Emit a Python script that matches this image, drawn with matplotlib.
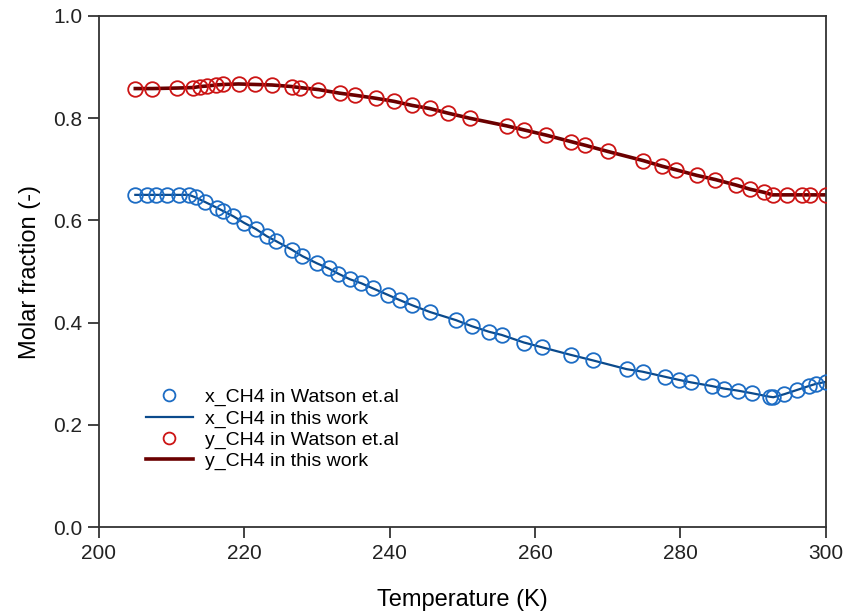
import matplotlib
matplotlib.use("Agg")
import matplotlib.pyplot as plt
from matplotlib.lines import Line2D

plt.rcParams['font.family'] = ['Liberation Sans', 'DejaVu Sans']

# x_CH4 (liquid) - Watson et.al
T_x = [205.0, 206.6, 207.9, 209.3, 211.0, 212.4, 213.3, 214.6, 216.2, 217.0,
       218.5, 220.0, 221.6, 223.1, 224.3, 226.5, 228.0, 230.0, 231.6, 232.9,
       234.5, 236.1, 237.7, 239.8, 241.4, 243.1, 245.5, 249.1, 251.3, 253.7,
       255.4, 258.5, 260.9, 264.9, 268.0, 272.6, 274.8, 277.9, 279.8, 281.5,
       284.3, 286.0, 287.9, 289.8, 292.3, 292.8, 294.3, 296.0, 297.7, 298.6,
       300.0]
x_ch4 = [0.650, 0.650, 0.650, 0.650, 0.650, 0.650, 0.645, 0.636, 0.625, 0.619,
         0.608, 0.595, 0.583, 0.569, 0.560, 0.543, 0.530, 0.516, 0.506, 0.496,
         0.485, 0.477, 0.467, 0.454, 0.444, 0.434, 0.421, 0.405, 0.393, 0.382,
         0.376, 0.361, 0.352, 0.337, 0.326, 0.309, 0.304, 0.294, 0.288, 0.283,
         0.276, 0.271, 0.267, 0.262, 0.255, 0.254, 0.260, 0.268, 0.276, 0.280,
         0.284]

# y_CH4 (vapour) - Watson et.al
T_y = [205.0, 207.3, 210.7, 213.0, 213.9, 214.9, 216.1, 217.1, 219.2, 221.5,
       223.8, 226.5, 227.6, 230.2, 233.1, 235.2, 238.1, 240.6, 243.1, 245.5,
       248.0, 251.0, 256.1, 258.5, 261.5, 265.0, 266.9, 270.0, 274.9, 277.5,
       279.4, 282.3, 284.8, 287.7, 289.6, 291.5, 292.7, 294.7, 296.7, 297.8,
       300.0]
y_ch4 = [0.858, 0.858, 0.859, 0.860, 0.862, 0.863, 0.865, 0.866, 0.867, 0.866,
         0.865, 0.862, 0.860, 0.856, 0.849, 0.845, 0.839, 0.833, 0.825, 0.819,
         0.810, 0.800, 0.785, 0.777, 0.767, 0.754, 0.747, 0.735, 0.717, 0.706,
         0.699, 0.688, 0.680, 0.669, 0.661, 0.655, 0.650, 0.650, 0.650, 0.650,
         0.650]

fig = plt.figure(figsize=(8.46, 6.15), dpi=100)
ax = fig.add_axes([0.117, 0.143, 0.859, 0.831])

blue_m = '#1c6cc4'
blue_l = '#0b4a8c'
red_m = '#cc1414'
red_l = '#6a0000'

ax.plot(T_x, x_ch4, color=blue_l, lw=1.6, zorder=2)
ax.plot(T_x, x_ch4, ls='none', marker='o', ms=10.5, mfc='none', mec=blue_m, mew=1.3, zorder=3)
ax.plot(T_y, y_ch4, color=red_l, lw=2.6, zorder=2)
ax.plot(T_y, y_ch4, ls='none', marker='o', ms=10.5, mfc='none', mec=red_m, mew=1.3, zorder=3)

ax.set_xlim(200, 300)
ax.set_ylim(0, 1.0)
ax.set_xticks([200, 220, 240, 260, 280, 300])
ax.set_yticks([0.0, 0.2, 0.4, 0.6, 0.8, 1.0])
ax.set_yticklabels(['0.0', '0.2', '0.4', '0.6', '0.8', '1.0'])
ax.tick_params(direction='out', length=8, width=1.2, labelsize=15, colors='#222222', pad=4)
for s in ax.spines.values():
    s.set_linewidth(1.3)
    s.set_color('#333333')

ax.set_xlabel('Temperature (K)', fontsize=17, labelpad=19)
ax.set_ylabel('Molar fraction (-)', fontsize=17, labelpad=9)

handles = [
    Line2D([], [], ls='none', marker='o', ms=8.5, mfc='none', mec=blue_m, mew=1.3),
    Line2D([], [], color=blue_l, lw=1.6),
    Line2D([], [], ls='none', marker='o', ms=8.5, mfc='none', mec=red_m, mew=1.3),
    Line2D([], [], color=red_l, lw=2.6),
]
labels = ['x_CH4 in Watson et.al', 'x_CH4 in this work',
          'y_CH4 in Watson et.al', 'y_CH4 in this work']
ax.legend(handles, labels, loc='upper left', bbox_to_anchor=(0.054, 0.286),
          frameon=False, fontsize=14, handlelength=2.4, handletextpad=0.65,
          labelspacing=0.18, borderaxespad=0)

fig.savefig('out.png', dpi=100)
